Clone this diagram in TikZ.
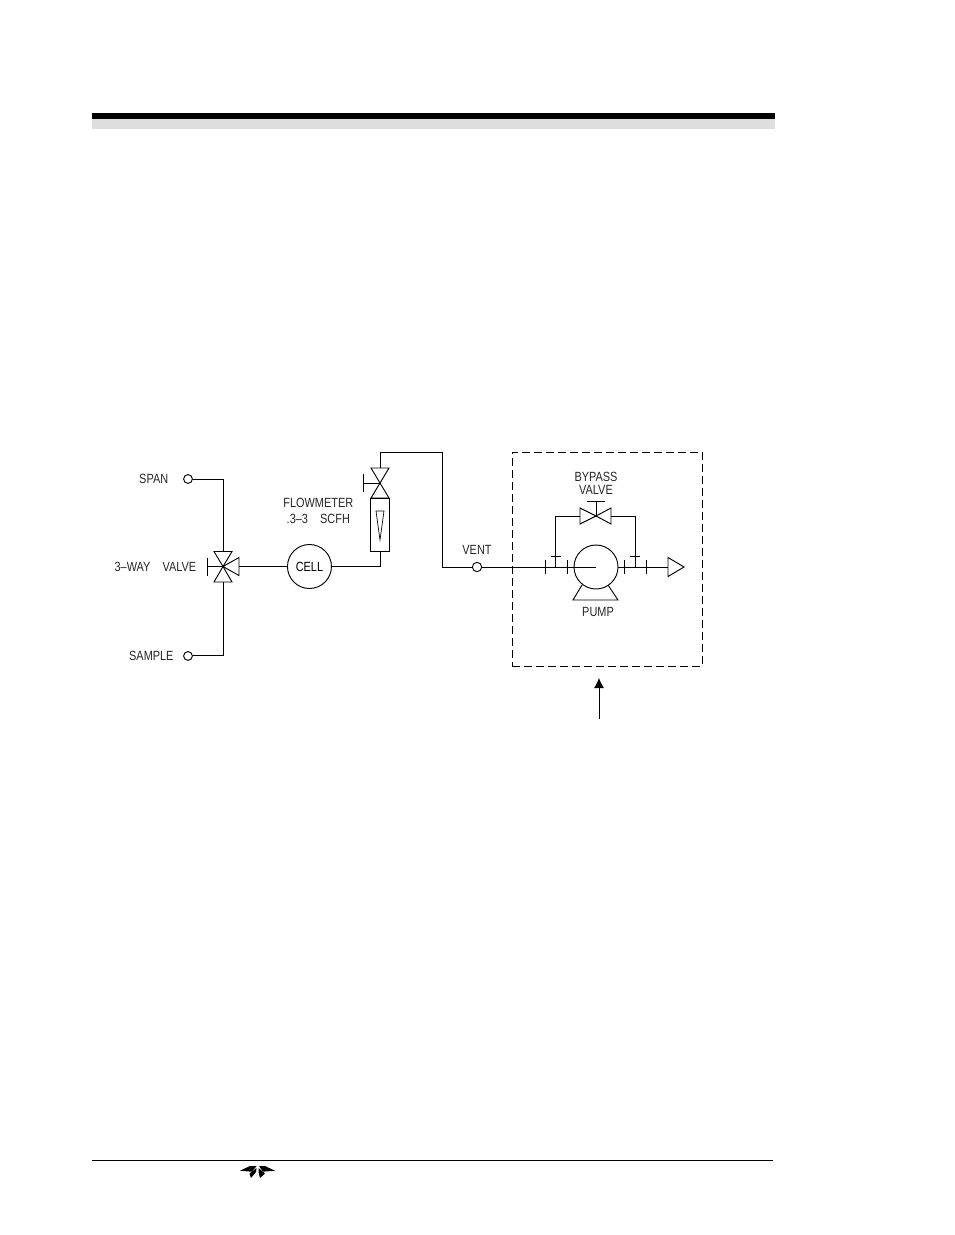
\documentclass[tikz,border=0pt]{standalone}
\usepackage{fontspec}
\setmainfont[FakeStretch=0.82]{Liberation Sans}
\usepackage{tikz}
\usetikzlibrary{arrows.meta, positioning, calc}

\begin{document}
\begin{tikzpicture}[
    x=0.75pt, y=-0.75pt,
    node distance=36pt,
    pipe/.style={line width=0.7pt},
    thin line/.style={line width=0.5pt},
    sym/.style={line width=0.7pt, line join=miter},
    port/.style={circle, draw, line width=0.7pt, inner sep=0pt, minimum size=6.6pt},
    vessel/.style={circle, draw, line width=0.7pt, inner sep=0pt, minimum size=33pt},
    label/.style={inner sep=0pt, font=\fontsize{10}{11}\selectfont, align=center, text=black!85},
    arrow/.style={-{Latex[length=7.5pt, width=7.5pt]}, line width=0.6pt}
]
    \useasboundingbox (0,0) rectangle (954,1235);

    % Page header and footer
    \fill[black!13] (92,119) rectangle (775,129);
    \fill[black] (92,113) rectangle (775,119);
    \draw[line width=0.7pt] (92,1160) -- (773,1160);

    % Logo
    \fill[black] (240,1170.7) -- (250,1166) -- (256.7,1166) -- (251.7,1171.7) -- cycle;
    \fill[black] (275,1170.7) -- (265,1166) -- (259,1166) -- (263,1171.7) -- cycle;
    \fill[black] (256.5,1168) -- (256,1172) -- (251,1178) -- (249.5,1173.5) -- cycle;
    \fill[black] (258.5,1168) -- (265,1173.5) -- (260,1178) -- (258.5,1172) -- cycle;

    % Inlets
    \node[port] (span) at (188,479) {};
    \node[port, below=125.4pt of span] (sample) {};
    \node[label, left=11pt of span] (spanlabel) {SPAN};
    \node[label, left=7pt of sample] (samplelabel) {SAMPLE};

    % 3-way valve
    \coordinate (valve) at (223,566.5);
    \node[label, anchor=east] (valvelabel) at (196.5,566.5) {3--WAY\ \ \ \ VALVE};
    \draw[sym] (valve) -- ++(-9,-15) -- ++(18,0) -- cycle;
    \draw[sym] (valve) -- ++(-9,15.5) -- ++(18,0) -- cycle;
    \draw[sym] (valve) -- ++(16,-9) -- ++(0,18) -- cycle;
    \draw[sym] (valve) -- ++(-16,0) ++(0,-9) -- ++(0,18);

    % Cell
    \node[vessel, right=36pt of valve, xshift=12pt, font=\fontsize{10}{11}\selectfont] (cell) {CELL};

    % Flowmeter
    \coordinate (fmvalve) at (380,483);
    \node[draw, line width=0.7pt, minimum width=14.25pt, minimum height=40pt, inner sep=0pt, below=11.25pt of fmvalve] (meter) {};
    \draw[sym] (fmvalve) -- ++(-9,-15) -- ++(18,0) -- cycle;
    \draw[sym] (fmvalve) -- ++(-9,15) -- ++(18,0) -- cycle;
    \draw[sym] (fmvalve) -- ++(-17,0) ++(0,-9) -- ++(0,18);
    \draw[thin line] (376,511) -- (384,511) -- (380,540) -- cycle;
    \node[label, anchor=east] at (353.5,511) (fmlabel) {FLOWMETER\\[1pt].3--3\ \ \ \ SCFH};

    % Vent
    \node[port, minimum size=7pt] (vent) at (477,567) {};
    \node[label, above=5pt of vent] (ventlabel) {VENT};
    \coordinate (riser) at (442,452);

    % Pump
    \node[vessel] (pump) at (596,567) {};
    \node[label, below=13pt of pump, xshift=1.5pt] (pumplabel) {PUMP};
    \draw[sym] (582,585) -- (573,600) -- (618,600) -- (608,585);

    % Bypass valve
    \coordinate (bypass) at (596,516);
    \draw[sym] (bypass) -- ++(-16,-8) -- ++(0,16) -- cycle;
    \draw[sym] (bypass) -- ++(15,-8) -- ++(0,16) -- cycle;
    \draw[sym] (bypass) -- ++(0,-15) ++(-9,0) -- ++(18,0);
    \node[label, above=8pt of bypass, yshift=8pt] (bypasslabel) {BYPASS\\[-1pt]VALVE};

    % Outlet
    \coordinate (outlet) at (668,567);
    \draw[sym] (outlet) ++(0,-9.5) -- ++(16,9.5) -- ++(-16,9.5) -- cycle;

    % Pump enclosure
    \node[draw, dashed, dash pattern=on 6pt off 3pt, line width=0.7pt, minimum width=142.5pt, minimum height=160.5pt, inner sep=0pt] (enclosure) at (607,559) {};
    \coordinate (calloutfoot) at (599,719);
    \coordinate (callouttip) at (599,678);

    % Arrows
    \draw[pipe] (span.east) -| ($(valve)+(0,-15)$);
    \draw[pipe] (sample.east) -| ($(valve)+(0,15.5)$);
    \draw[pipe] ($(valve)+(16,0)$) -- (cell);
    \draw[pipe] (cell) -| (meter.south);
    \draw[pipe] ($(fmvalve)+(0,-15)$) |- (riser) -- (riser |- vent) -- (vent);
    \draw[pipe] (vent) -- (pump.center);
    \draw[pipe] (pump.east) -- (outlet);
    \draw[pipe] (555.5,567) |- ($(bypass)+(-16,0)$);
    \draw[pipe] ($(bypass)+(15,0)$) -| (635,567);
    \draw[arrow] (calloutfoot) -- (callouttip);

    % Ticks
    \foreach \tx in {545,567,624,646}
        \draw[thin line] (\tx,560) -- (\tx,574);
    \foreach \bx in {555.5,635}
        \draw[thin line] (\bx-5,556) -- (\bx+5,556);
\end{tikzpicture}
\end{document}
